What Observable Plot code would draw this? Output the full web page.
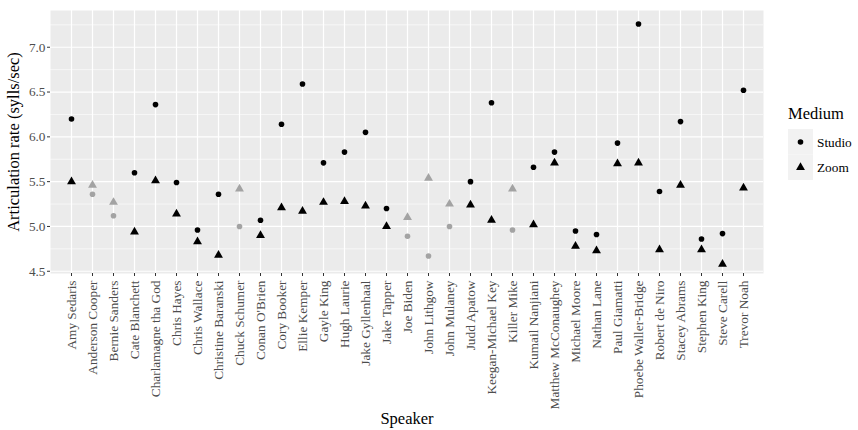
<!DOCTYPE html>
<html>
<head>
<meta charset="utf-8">
<script src="https://cdn.jsdelivr.net/npm/d3@7"></script>
<script src="https://cdn.jsdelivr.net/npm/@observablehq/plot@0.6"></script>
<style>
  body { margin: 0; background: white; }
  #wrap { position: relative; width: 858px; height: 430px; font-family: "Liberation Serif", serif; overflow: hidden; }
  #legend { position: absolute; left: 788px; top: 100px; }
</style>
</head>
<body>
<div id="wrap"></div>
<script>
const speakers = ["Amy Sedaris","Anderson Cooper","Bernie Sanders","Cate Blanchett","Charlamagne tha God","Chris Hayes","Chris Wallace","Christine Baranski","Chuck Schumer","Conan O'Brien","Cory Booker","Ellie Kemper","Gayle King","Hugh Laurie","Jake Gyllenhaal","Jake Tapper","Joe Biden","John Lithgow","John Mulaney","Judd Apatow","Keegan-Michael Key","Killer Mike","Kumail Nanjiani","Matthew McConaughey","Michael Moore","Nathan Lane","Paul Giamatti","Phoebe Waller-Bridge","Robert de Niro","Stacey Abrams","Stephen King","Steve Carell","Trevor Noah"];
const studioRate = [6.20,5.36,5.12,5.60,6.36,5.49,4.96,5.36,5.00,5.07,6.14,6.59,5.71,5.83,6.05,5.20,4.89,4.67,5.00,5.50,6.38,4.96,5.66,5.83,4.95,4.91,5.93,7.26,5.39,6.17,4.86,4.92,6.52];
const zoomRate = [5.50,5.46,5.27,4.94,5.51,5.14,4.83,4.68,5.42,4.90,5.21,5.17,5.27,5.28,5.23,5.00,5.10,5.54,5.25,5.24,5.07,5.42,5.02,5.71,4.78,4.73,5.70,5.71,4.74,5.46,4.74,4.58,5.43];
const greySpeakers = ["Anderson Cooper","Bernie Sanders","Chuck Schumer","Joe Biden","John Lithgow","John Mulaney","Killer Mike"];
const media = ["Studio","Zoom"];
const yTicks = [4.5,5.0,5.5,6.0,6.5,7.0];
const yMinor = [4.75,5.25,5.75,6.25,6.75,7.25];

const rows = [];
speakers.forEach((s,i) => {
  rows.push({speaker: s, medium: "Studio", rate: studioRate[i], grey: greySpeakers.includes(s)});
  rows.push({speaker: s, medium: "Zoom", rate: zoomRate[i], grey: greySpeakers.includes(s)});
});
const col = d => d.grey ? "#a3a3a3" : "#000000";

const chart = Plot.plot({
  width: 858,
  height: 430,
  marginLeft: 50,
  marginRight: 95,
  marginTop: 10,
  marginBottom: 157,
  style: {fontFamily: "Liberation Serif", background: "white"},
  x: {type: "point", domain: speakers, padding: 0.6},
  y: {domain: [4.475, 7.41]},
  marks: [
    Plot.frame({fill: "#ebebeb", stroke: null}),
    Plot.ruleY(yMinor, {stroke: "white", strokeWidth: 0.6}),
    Plot.ruleY(yTicks, {stroke: "white", strokeWidth: 1.2}),
    Plot.ruleX(speakers, {stroke: "white", strokeWidth: 1.2}),
    Plot.axisY({ticks: yTicks, tickFormat: d3.format(".1f"), tickSize: 3, tickPadding: 2, fontSize: 13.3, color: "#4d4d4d", stroke: "#333333",
      label: "Articulation rate (sylls/sec)", labelAnchor: "center", labelArrow: "none", labelOffset: 43}),
    Plot.axisY({ticks: [], label: null}),
    Plot.axisX({tickRotate: -90, tickSize: 3, tickPadding: 4, fontSize: 13.3, color: "#4d4d4d", stroke: "#333333",
      label: "Speaker", labelAnchor: "center", labelArrow: "none", labelOffset: 150}),
    Plot.dot(rows.filter(d => d.medium === "Studio"), {x: "speaker", y: "rate", r: 2.8, fill: col, stroke: null, symbol: "circle"}),
    Plot.dot(rows.filter(d => d.medium === "Zoom"), {x: "speaker", y: "rate", r: 3.3, fill: col, stroke: null, symbol: "triangle"})
  ]
});
// style axis labels
d3.select(chart).selectAll("g[aria-label='y-axis label'] text, g[aria-label='x-axis label'] text")
  .style("font-size", "16.5px").attr("fill", "#000");

const wrap = document.getElementById("wrap");
wrap.appendChild(chart);

// legend (ggplot-like)
const leg = d3.select(wrap).append("svg").attr("id", "legend").attr("width", 70).attr("height", 90);
leg.append("text").attr("x", 0).attr("y", 19).attr("font-size", 16.5).attr("font-family", "Liberation Serif").text("Medium");
media.forEach((m, i) => {
  const g = leg.append("g").attr("transform", `translate(0,${29 + i*25.5})`);
  g.append("rect").attr("width", 25).attr("height", 25.5).attr("fill", "#f2f2f2");
  g.append("path").attr("transform", "translate(12.5,13)")
    .attr("d", d3.symbol(m === "Studio" ? d3.symbolCircle : d3.symbolTriangle, m === "Studio" ? Math.PI*2.8*2.8 : Math.PI*3.3*3.3)())
    .attr("fill", "#000");
  g.append("text").attr("x", 29).attr("y", 17.5).attr("font-size", 13.3).attr("font-family", "Liberation Serif").text(m);
});
</script>
</body>
</html>
